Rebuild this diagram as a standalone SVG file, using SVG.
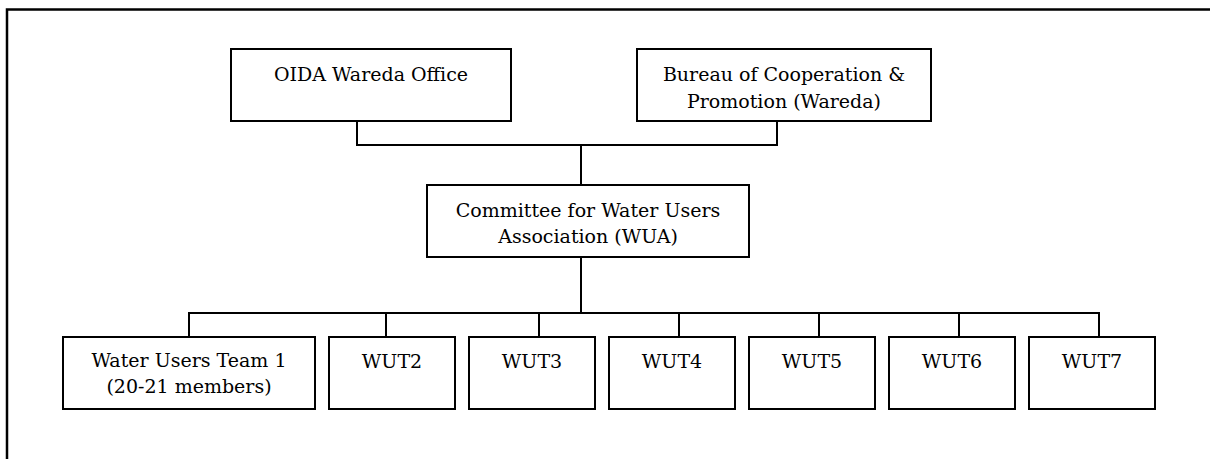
<svg xmlns="http://www.w3.org/2000/svg" width="1210" height="459" viewBox="0 0 1210 459">
  <style>
    .box { fill: #ffffff; stroke: #000000; stroke-width: 2; }
    .wire { fill: none; stroke: #000000; stroke-width: 2; }
    .frame { fill: none; stroke: #000000; stroke-width: 2.5; }
    .label { font-family: "DejaVu Serif", "Liberation Serif", serif; font-size: 19px; fill: #000000; text-anchor: middle; }
  </style>
  <rect width="1210" height="459" fill="#ffffff"/>

  <!-- page frame (continues past the right and bottom edges) -->
  <path class="frame" d="M7,462 V9.5 H1213"/>

  <!-- connectors -->
  <g id="connectors">
    <path class="wire" d="M357,121 V145 H777 V121"/>
    <path class="wire" d="M581,145 V185"/>
    <path class="wire" d="M581,257 V313"/>
    <path class="wire" d="M189,337 V313 H1099 V337"/>
    <path class="wire" d="M386,313 V337"/>
    <path class="wire" d="M539,313 V337"/>
    <path class="wire" d="M679,313 V337"/>
    <path class="wire" d="M819,313 V337"/>
    <path class="wire" d="M959,313 V337"/>
  </g>

  <g id="oida-wareda-office">
    <rect class="box" x="231" y="49" width="280" height="72"/>
    <text class="label" x="371" y="81">OIDA Wareda Office</text>
  </g>

  <g id="bureau-cooperation">
    <rect class="box" x="637" y="49" width="294" height="72"/>
    <text class="label" x="784" y="81">Bureau of Cooperation &amp;</text>
    <text class="label" x="784" y="107.5">Promotion (Wareda)</text>
  </g>

  <g id="committee-wua">
    <rect class="box" x="427" y="185" width="322" height="72"/>
    <text class="label" x="588" y="216.5">Committee for Water Users</text>
    <text class="label" x="588" y="243">Association (WUA)</text>
  </g>

  <g id="wut1">
    <rect class="box" x="63" y="337" width="252" height="72"/>
    <text class="label" x="189" y="366.5">Water Users Team 1</text>
    <text class="label" x="189" y="392.5">(20-21 members)</text>
  </g>

  <g id="wut2">
    <rect class="box" x="329" y="337" width="126" height="72"/>
    <text class="label" x="392" y="367.5">WUT2</text>
  </g>

  <g id="wut3">
    <rect class="box" x="469" y="337" width="126" height="72"/>
    <text class="label" x="532" y="367.5">WUT3</text>
  </g>

  <g id="wut4">
    <rect class="box" x="609" y="337" width="126" height="72"/>
    <text class="label" x="672" y="367.5">WUT4</text>
  </g>

  <g id="wut5">
    <rect class="box" x="749" y="337" width="126" height="72"/>
    <text class="label" x="812" y="367.5">WUT5</text>
  </g>

  <g id="wut6">
    <rect class="box" x="889" y="337" width="126" height="72"/>
    <text class="label" x="952" y="367.5">WUT6</text>
  </g>

  <g id="wut7">
    <rect class="box" x="1029" y="337" width="126" height="72"/>
    <text class="label" x="1092" y="367.5">WUT7</text>
  </g>
</svg>
